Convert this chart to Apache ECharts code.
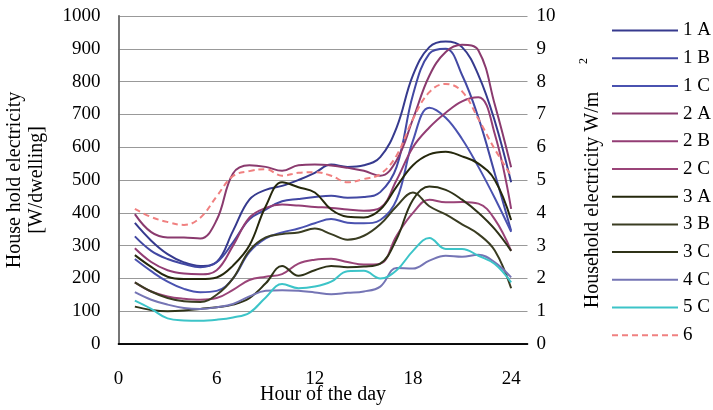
<!DOCTYPE html>
<html><head><meta charset="utf-8">
<script src="https://cdn.jsdelivr.net/npm/echarts@6/dist/echarts.min.js"></script>
<style>html,body{margin:0;padding:0;background:#fff}#c{width:713px;height:410px}</style>
</head><body><div id="c"></div>
<script>
var hours = [1,2,3,4,5,6,7,8,9,10,11,12,13,14,15,16,17,18,19,20,21,22,23,24];
var s1A = [369,315,274,249,238,250,345,440,470,482,500,522,547,540,545,570,660,820,905,922,905,820,680,493];
var s1B = [328,284,259,244,234,249,310,380,410,435,442,448,452,446,448,463,540,760,885,900,820,690,520,345];
var s1C = [259,222,190,168,158,162,200,280,322,340,352,368,381,370,368,378,440,620,720,690,625,540,445,342];
var s2A = [396,341,325,325,322,378,520,545,540,528,545,547,544,537,528,513,560,686,818,890,912,895,730,539];
var s2B = [292,250,225,215,213,225,300,385,415,425,422,418,415,410,406,415,500,600,660,705,740,752,640,412];
var s2C = [188,160,145,138,135,140,165,195,205,213,245,257,260,250,242,245,330,400,440,432,433,428,380,284];
var s3A = [271,235,205,198,198,203,239,300,420,493,478,462,410,388,386,410,480,545,578,586,572,550,500,378];
var s3B = [188,160,140,130,128,150,200,285,325,335,340,352,335,318,330,365,420,462,420,395,365,335,285,170];
var s3C = [114,104,100,102,107,112,120,140,185,238,208,225,238,234,236,245,320,440,480,470,440,400,350,284];
var s4C = [158,135,120,110,107,112,122,145,162,164,162,157,152,156,160,175,232,230,254,269,266,272,249,203];
var s5C = [132,107,78,72,71,74,81,95,142,183,170,175,190,222,223,200,225,284,323,290,290,269,244,188];
var s6 = [4.12,3.87,3.72,3.63,3.85,4.5,5.12,5.27,5.33,5.13,5.22,5.24,5.13,4.93,5.03,5.18,5.75,6.86,7.68,7.93,7.7,6.86,5.94,5.13];
var xTicks = [0,6,12,18,24];
var leftTicks = [0,100,200,300,400,500,600,700,800,900,1000];
var rightTicks = [0,1,2,3,4,5,6,7,8,9,10];

var FONT = 'Liberation Serif';
function pts(arr){ return hours.map(function(h,i){ return [h, arr[i]]; }); }
var defs = [
  ['1 A', s1A, '#363a8e', 0, 'solid'],
  ['1 B', s1B, '#4248a3', 0, 'solid'],
  ['1 C', s1C, '#4a52b0', 0, 'solid'],
  ['2 A', s2A, '#8a3a6e', 0, 'solid'],
  ['2 B', s2B, '#933d74', 0, 'solid'],
  ['2 C', s2C, '#9a4478', 0, 'solid'],
  ['3 A', s3A, '#25280c', 0, 'solid'],
  ['3 B', s3B, '#3a3d22', 0, 'solid'],
  ['3 C', s3C, '#2f3318', 0, 'solid'],
  ['4 C', s4C, '#7575b5', 0, 'solid'],
  ['5 C', s5C, '#3cc4c8', 0, 'solid'],
  ['6', s6, '#f08080', 1, [6,4]]
];
var series = defs.map(function(d){
  return {
    name: d[0], type: 'line', data: pts(d[1]), yAxisIndex: d[3], xAxisIndex: 0,
    smooth: 0.4, symbol: 'none', showSymbol: false,
    lineStyle: {color: d[2], width: 2, type: d[4]},
    itemStyle: {color: d[2]}
  };
});
var chart = echarts.init(document.getElementById('c'), null, {renderer: 'canvas'});
chart.setOption({
  animation: false,
  backgroundColor: '#fff',
  grid: {left: 118.5, right: 185.5, top: 16, bottom: 66, outerBoundsMode: 'none', containLabel: false},
  xAxis: [{
    type: 'value', min: 0, max: 25, interval: 6,
    name: 'Hour of the day', nameLocation: 'middle', nameGap: 41, nameMoveOverlap: false,
    nameTextStyle: {fontFamily: FONT, fontSize: 20, color: '#000'},
    axisLine: {show: true, lineStyle: {color: '#000', width: 1.5}},
    axisTick: {show: false},
    splitLine: {show: false},
    axisLabel: {fontFamily: FONT, fontSize: 19, color: '#000', margin: 26,
      formatter: function(v){ return xTicks.indexOf(v) >= 0 ? String(v) : ''; }}
  },{
    type: 'value', min: 0, max: 25, position: 'top',
    axisLine: {show: true, lineStyle: {color: '#000', width: 1.5}},
    axisTick: {show: false}, axisLabel: {show: false}, splitLine: {show: false}
  }],
  yAxis: [{
    type: 'value', min: 0, max: 1000, interval: 100,
    name: 'House hold electricity\n[W/dwelling]', nameLocation: 'middle', nameGap: 71, nameRotate: 90,
    nameTextStyle: {fontFamily: FONT, fontSize: 20, color: '#000', lineHeight: 22},
    axisLine: {show: true, lineStyle: {color: '#000', width: 1.5}},
    axisTick: {show: false},
    splitLine: {show: true, lineStyle: {color: '#999', width: 1}},
    axisLabel: {fontFamily: FONT, fontSize: 19, color: '#000', margin: 18,
      formatter: function(v){ return leftTicks.indexOf(v) >= 0 ? String(v) : ''; }}
  },{
    type: 'value', min: 0, max: 10, interval: 1, position: 'right',
    name: 'Household electricity W/m', nameLocation: 'middle', nameGap: 55, nameRotate: 90,
    nameTextStyle: {fontFamily: FONT, fontSize: 20, color: '#000', padding: [0, 40, 0, 0]},
    axisLine: {show: true, lineStyle: {color: '#888', width: 1.5}},
    axisTick: {show: false},
    splitLine: {show: false},
    axisLabel: {fontFamily: FONT, fontSize: 19, color: '#000', margin: 9,
      formatter: function(v){ return rightTicks.indexOf(v) >= 0 ? String(v) : ''; }}
  }],
  legend: {
    orient: 'vertical', left: 611, top: 21, padding: 0, itemWidth: 66, itemHeight: 14, itemGap: 8.7,
    itemStyle: {opacity: 0},
    textStyle: {fontFamily: FONT, fontSize: 19, color: '#000'},
    data: defs.map(function(d){ return d[0]; })
  },
  graphic: [{
    type: 'text', left: 578, top: 58, rotation: Math.PI/2,
    style: {text: '2', fontFamily: FONT, fontSize: 12, fill: '#000'}
  }],
  series: series
});
</script></body></html>
